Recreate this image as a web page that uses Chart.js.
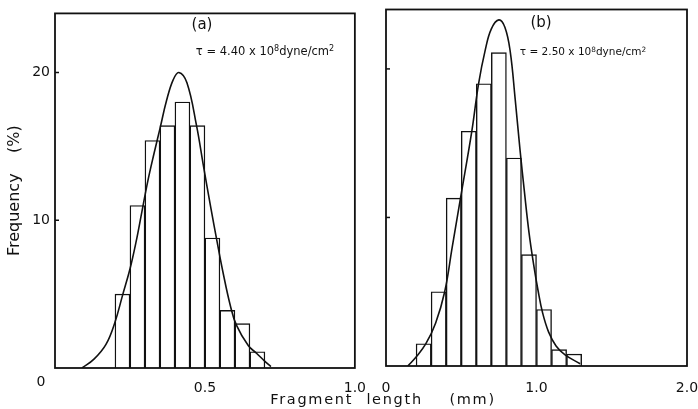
<!DOCTYPE html>
<html>
<head>
<meta charset="utf-8">
<script src="https://cdn.jsdelivr.net/npm/chart.js@4.4.0/dist/chart.umd.min.js"></script>
<style>
  body { margin: 0; background: #fff; width: 698px; height: 409px; overflow: hidden; position: relative;
         font-family: "DejaVu Sans", sans-serif; color: #111; }
  .panel { position: absolute; top: 0; height: 409px; }
  #pa { left: 0; width: 370px; }
  #pb { left: 370px; width: 348px; }
  .lbl { position: absolute; white-space: nowrap; line-height: 1; transform: translate(-50%, -50%); }
  .lbl sup { font-size: 70%; vertical-align: 0; position: relative; top: -0.45em; }
</style>
</head>
<body>
<div class="panel" id="pa"><canvas id="chartA"></canvas></div>
<div class="panel" id="pb"><canvas id="chartB"></canvas></div>

<div class="lbl" style="left:202px;top:24px;font-size:15px;">(a)</div>
<div class="lbl" style="left:265px;top:52px;font-size:11.5px;">τ = 4.40 x 10<sup>8</sup>dyne/cm<sup>2</sup></div>
<div class="lbl" style="left:541px;top:22px;font-size:15px;">(b)</div>
<div class="lbl" style="left:583px;top:51px;font-size:10.5px;">τ = 2.50 x 10<sup>8</sup>dyne/cm<sup>2</sup></div>
<div class="lbl" style="left:41px;top:381px;font-size:14px;">0</div>
<div class="lbl" style="left:383px;top:399px;font-size:14.5px;letter-spacing:1.7px;word-spacing:7px;">Fragment length &nbsp;(mm)</div>

<script>
// (a) tau = 4.40e8 dyne/cm2, bins of 0.05 mm
const binsA = [0.225, 0.275, 0.325, 0.375, 0.425, 0.475, 0.525, 0.575, 0.625, 0.675];
const freqA = [5.0, 11.0, 15.4, 16.4, 18.0, 16.4, 8.8, 3.9, 3.0, 1.1];
const curveAx = [0.09, 0.13, 0.17, 0.2, 0.225, 0.25, 0.27, 0.29, 0.31, 0.33, 0.35, 0.372, 0.394, 0.413,
    0.44, 0.472, 0.494, 0.52, 0.54, 0.56, 0.585, 0.605, 0.645, 0.672, 0.7, 0.72];
const curveAy = [0, 0.6, 1.6, 3.1, 4.9, 6.7, 8.5, 10.6, 12.7, 14.5, 16.2, 18.1, 19.5, 20.0,
    19.3, 16.4, 13.8, 10.8, 8.6, 6.5, 4.2, 2.9, 1.5, 1.0, 0.45, 0.1];

// (b) tau = 2.50e8 dyne/cm2, bins of 0.1 mm
const binsB = [0.25, 0.35, 0.45, 0.55, 0.65, 0.75, 0.85, 0.95, 1.05, 1.15, 1.25];
const freqB = [1.5, 5.0, 11.3, 15.8, 19.0, 21.1, 14.0, 7.5, 3.8, 1.1, 0.8];
const curveBx = [0.145, 0.2, 0.265, 0.33, 0.39, 0.44, 0.495, 0.57, 0.615, 0.66, 0.7, 0.75, 0.79, 0.825,
    0.858, 0.89, 0.92, 0.95, 0.98, 1.01, 1.04, 1.08, 1.13, 1.19, 1.29];
const curveBy = [0, 0.6, 1.5, 2.9, 5.0, 8.0, 11.3, 15.8, 19.0, 21.3, 22.7, 23.3, 22.8, 21.2,
    18.0, 14.6, 11.7, 9.0, 6.9, 5.1, 3.6, 2.3, 1.35, 0.75, 0.15];

const yTicks = [10, 20];
const ink = '#111';
const font = "'DejaVu Sans', sans-serif";

function pts(xs, ys) {
    return xs.map(function(x, i) { return { x: x, y: ys[i] }; });
}

// frame around the plot area + short inward ticks on the y axis
const framePlugin = {
    id: 'frame',
    afterDraw: function(chart) {
        const a = chart.chartArea;
        const ctx = chart.ctx;
        const y = chart.scales.y;
        ctx.save();
        ctx.strokeStyle = ink;
        ctx.lineWidth = 1.8;
        ctx.strokeRect(a.left, a.top, a.right - a.left, a.bottom - a.top);
        ctx.lineWidth = 1.5;
        yTicks.forEach(function(v) {
            const py = y.getPixelForValue(v);
            ctx.beginPath();
            ctx.moveTo(a.left, py);
            ctx.lineTo(a.left + 4, py);
            ctx.stroke();
        });
        ctx.restore();
    }
};

function makeChart(id, bins, freq, cx, cy, opt) {
    return new Chart(document.getElementById(id), {
        type: 'bar',
        data: {
            datasets: [{
                type: 'line',
                data: pts(cx, cy),
                borderColor: ink,
                borderWidth: 1.6,
                pointRadius: 0,
                tension: 0.4,
                fill: false,
                order: 0
            }, {
                type: 'bar',
                data: pts(bins, freq),
                backgroundColor: '#fff',
                borderColor: ink,
                borderWidth: 1.4,
                barPercentage: 1,
                categoryPercentage: 1,
                order: 1
            }]
        },
        options: {
            responsive: true,
            maintainAspectRatio: false,
            animation: false,
            devicePixelRatio: 1,
            layout: { padding: opt.padding },
            scales: {
                x: {
                    type: 'linear',
                    min: 0,
                    max: opt.xMax,
                    offset: false,
                    grid: { display: false },
                    border: { display: false },
                    afterBuildTicks: function(s) {
                        s.ticks = opt.xTicks.map(function(v) { return { value: v }; });
                    },
                    afterFit: function(s) { s.height = opt.xHeight; },
                    ticks: {
                        autoSkip: false,
                        maxRotation: 0,
                        padding: opt.xPad,
                        color: ink,
                        font: { family: font, size: 14 },
                        callback: function(v) { return v === 0 ? opt.zeroLabel : v.toFixed(1); }
                    }
                },
                y: {
                    min: 0,
                    max: 24,
                    grid: { display: false, drawTicks: false },
                    border: { display: false },
                    afterBuildTicks: function(s) {
                        s.ticks = yTicks.map(function(v) { return { value: v }; });
                    },
                    afterFit: function(s) { s.width = opt.yWidth; },
                    ticks: {
                        display: opt.yLabels,
                        padding: 5,
                        color: ink,
                        font: { family: font, size: 14 }
                    },
                    title: {
                        display: opt.yLabels,
                        text: 'Frequency    (%)',
                        color: ink,
                        padding: { top: 5, bottom: 0 },
                        font: { family: font, size: 16 }
                    }
                }
            },
            plugins: {
                legend: { display: false },
                tooltip: { enabled: false }
            }
        },
        plugins: [framePlugin]
    });
}

makeChart('chartA', binsA, freqA, curveAx, curveAy, {
    padding: { left: 0, right: 15, top: 10, bottom: 0 },
    xMax: 1.0, xTicks: [0, 0.5, 1.0], zeroLabel: '',
    xHeight: 41, xPad: 4, yWidth: 55, yLabels: true
});

makeChart('chartB', binsB, freqB, curveBx, curveBy, {
    padding: { left: 0, right: 31, top: 9.5, bottom: 0 },
    xMax: 2.0, xTicks: [0, 1.0, 2.0], zeroLabel: '0',
    xHeight: 43, xPad: 6, yWidth: 16, yLabels: false
});
</script>
</body>
</html>
